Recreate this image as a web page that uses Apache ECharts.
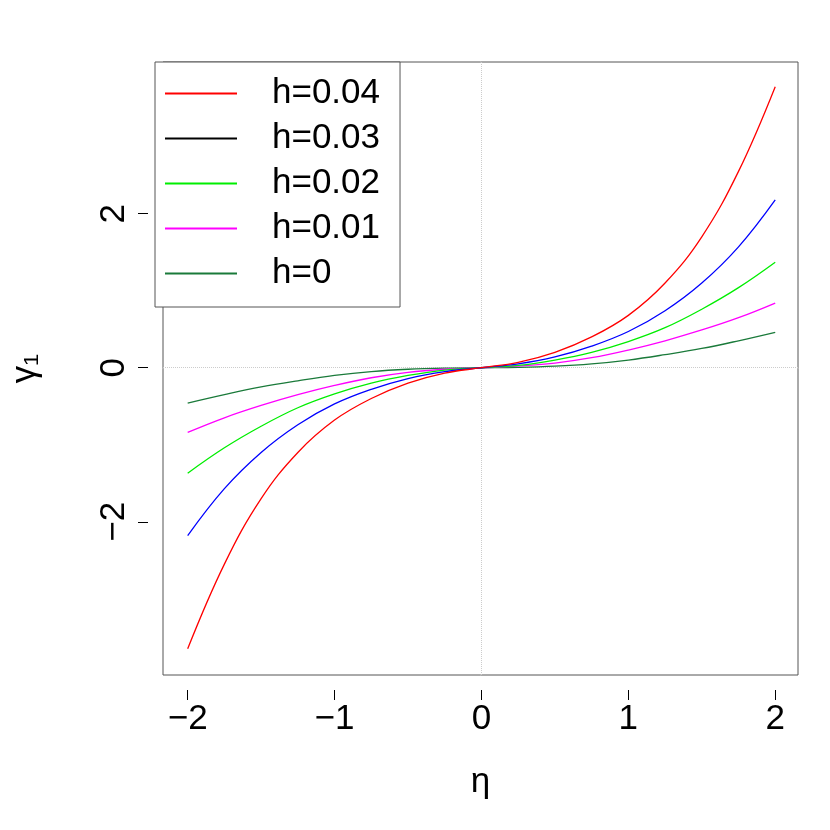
<!DOCTYPE html>
<html>
<head>
<meta charset="utf-8">
<script src="https://cdn.jsdelivr.net/npm/echarts@6/dist/echarts.min.js"></script>
<style>body{margin:0}#main{width:830px;height:830px}</style>
</head>
<body>
<div id="main"></div>
<script>
var eta = [-2, -1.75, -1.5, -1.25, -1, -0.75, -0.5, -0.25, 0, 0.25, 0.5, 0.75, 1, 1.25, 1.5, 1.75, 2];
var h004 = [-3.65, -2.55, -1.7, -1.1, -0.68, -0.4, -0.2, -0.07, 0, 0.07, 0.2, 0.4, 0.68, 1.1, 1.7, 2.55, 3.65];
var h003 = [-2.18, -1.57, -1.1, -0.74, -0.47, -0.28, -0.14, -0.05, 0, 0.05, 0.14, 0.28, 0.47, 0.74, 1.1, 1.57, 2.18];
var h002 = [-1.37, -1.04, -0.76, -0.52, -0.34, -0.2, -0.1, -0.03, 0, 0.03, 0.1, 0.2, 0.34, 0.52, 0.76, 1.04, 1.37];
var h001 = [-0.84, -0.65, -0.49, -0.35, -0.23, -0.13, -0.06, -0.02, 0, 0.02, 0.06, 0.13, 0.23, 0.35, 0.49, 0.65, 0.84];
var h000 = [-0.46, -0.35, -0.25, -0.17, -0.1, -0.05, -0.02, -0.005, 0, 0.005, 0.02, 0.05, 0.1, 0.17, 0.25, 0.35, 0.46];
var names = ['h=0.04', 'h=0.03', 'h=0.02', 'h=0.01', 'h=0'];
var colors = ['#ff0000', '#0000ff', '#00ee00', '#ff00ff', '#1a7a3a'];
var legendColors = ['#ff0000', '#000000', '#00ee00', '#ff00ff', '#1a7a3a'];
var xTicks = [-2, -1, 0, 1, 2];
var yTicks = [-2, 0, 2];

function pairs(ys) { return eta.map(function (x, i) { return [x, ys[i]]; }); }
var all = [h004, h003, h002, h001, h000];

var chart = echarts.init(document.getElementById('main'));
var series = all.map(function (ys, i) {
  return {
    name: names[i], type: 'line', data: pairs(ys), smooth: 0.4, symbol: 'none',
    lineStyle: { color: colors[i], width: 1.3 }, itemStyle: { color: legendColors[i] },
    z: 10 - i
  };
});
series[0].markLine = {
  silent: true, symbol: 'none', label: { show: false },
  lineStyle: { color: '#ccc', type: 'dotted', width: 1 },
  data: [{ xAxis: 0 }, { yAxis: 0 }]
};
function minus(v) { return String(v).replace('-', '\u2212'); }
chart.setOption({
  backgroundColor: '#fff',
  animation: false,
  textStyle: { fontFamily: 'Liberation Sans' },
  grid: { left: 155, top: 62, right: 32, bottom: 155, show: true, borderColor: '#555', borderWidth: 1 },
  legend: {
    orient: 'vertical', left: 155, top: 62,
    backgroundColor: '#fff', borderColor: '#555', borderWidth: 1,
    padding: [14, 20, 16, 10], itemWidth: 72, itemHeight: 2, itemGap: 10,
    icon: 'rect',
    textStyle: { fontSize: 35, color: '#000', padding: [0, 0, 0, 30] },
    data: names.map(function (n, i) { return { name: n, itemStyle: { color: legendColors[i] } }; })
  },
  xAxis: {
    type: 'value', min: -2.168, max: 2.155, offset: 15,
    name: 'η', nameLocation: 'middle', nameGap: 75,
    nameTextStyle: { fontSize: 35, color: '#000' },
    axisLine: { show: false, onZero: false },
    axisTick: { show: true, length: 10, customValues: xTicks, lineStyle: { color: '#000' } },
    axisLabel: { fontSize: 35, color: '#000', margin: 12, customValues: xTicks, formatter: minus },
    splitLine: { show: false }
  },
  yAxis: {
    type: 'value', min: -3.99, max: 3.97, offset: 15,
    name: 'γ₁', nameLocation: 'middle', nameGap: 105, nameRotate: 90,
    nameTextStyle: { fontSize: 35, color: '#000' },
    axisLine: { show: false, onZero: false },
    axisTick: { show: true, length: 10, customValues: yTicks, lineStyle: { color: '#000' } },
    axisLabel: { fontSize: 35, color: '#000', margin: 16, rotate: 90, customValues: yTicks, formatter: minus },
    splitLine: { show: false }
  },
  series: series
});
</script>
</body>
</html>
